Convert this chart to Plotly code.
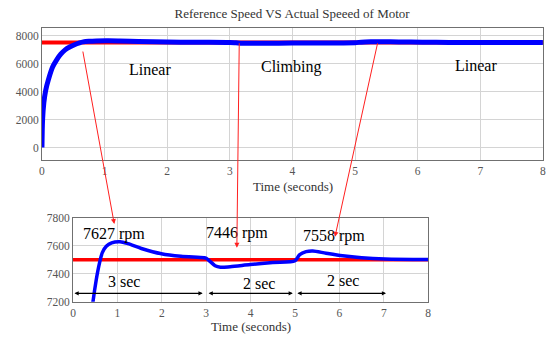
import plotly.graph_objects as go

# ---- data ----
time_s = [0, 0.01, 0.03, 0.06, 0.1, 0.17, 0.24, 0.3, 0.37, 0.45, 0.52, 0.6, 0.66, 0.75, 0.87,
          1.06, 1.24, 1.54, 1.99, 2.43, 2.95, 3.0, 3.1, 3.2, 3.32, 3.54, 3.99, 4.5, 5.0, 5.1,
          5.25, 5.4, 5.7, 6.07, 6.5, 7.03, 8.0]
actual_rpm = [0, 2000, 3200, 4100, 4800, 5750, 6300, 6670, 6980, 7200, 7350, 7480, 7550, 7595, 7620,
              7628, 7614, 7580, 7542, 7524, 7514, 7510, 7484, 7457, 7446, 7450, 7465, 7480, 7492, 7534,
              7557, 7562, 7546, 7528, 7514, 7505, 7501]
ref_time = [0, 8]
ref_rpm = [7500, 7500]

regions = ["Linear", "Climbing", "Linear"]
region_x = [1.72, 3.97, 6.93]
region_y = [5566, 5752, 5862]

peak_labels = ["7627 rpm", "7446 rpm", "7558 rpm"]
peak_x = [0.92, 3.69, 5.88]
peak_y = [7680, 7690, 7668]

dur_labels = ["3 sec", "2 sec", "2 sec"]
dur_x = [1.14, 4.19, 6.09]
dur_y = [7345, 7332, 7351]
dur_start = [0.0, 3.02, 5.02]
dur_end = [2.92, 4.95, 7.05]

x_ticks = list(range(0, 9))
top_y_ticks = [0, 2000, 4000, 6000, 8000]
bot_y_ticks = [7200, 7400, 7600, 7800]

SERIF = "Liberation Serif"
fig = go.Figure()

# top plot
fig.add_trace(go.Scatter(x=ref_time, y=ref_rpm, mode="lines", line=dict(color="#ff0000", width=4),
                         xaxis="x", yaxis="y", showlegend=False))
fig.add_trace(go.Scatter(x=time_s, y=actual_rpm, mode="lines",
                         line=dict(color="#0000ff", width=5, shape="spline", smoothing=0.8),
                         xaxis="x", yaxis="y", showlegend=False))
# bottom plot
fig.add_trace(go.Scatter(x=ref_time, y=ref_rpm, mode="lines", line=dict(color="#ff0000", width=3.5),
                         xaxis="x2", yaxis="y2", showlegend=False))
fig.add_trace(go.Scatter(x=time_s, y=actual_rpm, mode="lines",
                         line=dict(color="#0000ff", width=3.5, shape="spline", smoothing=0.8),
                         xaxis="x2", yaxis="y2", showlegend=False))

axis_common = dict(showgrid=True, gridcolor="#d4d4d4", gridwidth=1, showline=True, linecolor="#707070",
                   linewidth=1, mirror=True, ticks="", zeroline=False,
                   tickfont=dict(family=SERIF, size=11.5, color="#555555"))

fig.update_layout(
    width=547, height=342, margin=dict(l=0, r=0, t=0, b=0),
    paper_bgcolor="white", plot_bgcolor="white",
    title=dict(text="Reference Speed VS Actual Speeed of Motor", x=0.534, y=0.961, xanchor="center",
               yanchor="middle", font=dict(family=SERIF, size=13, color="#333333")),
    xaxis=dict(domain=[0.072, 0.998], anchor="y", range=[0, 8], tickvals=x_ticks, **axis_common),
    yaxis=dict(domain=[0.5322, 0.9348], anchor="x", range=[-917, 8579], tickvals=top_y_ticks, **axis_common),
    xaxis2=dict(domain=[0.1294, 0.786], anchor="y2", range=[0, 8], tickvals=x_ticks, **axis_common),
    yaxis2=dict(domain=[0.1038, 0.3588], anchor="x2", range=[7200, 7800], tickvals=bot_y_ticks, **axis_common),
)

# axis titles
fig.add_annotation(x=0.5356, y=0.454, xref="paper", yref="paper", text="Time (seconds)", showarrow=False,
                   xanchor="center", yanchor="middle", font=dict(family=SERIF, size=13, color="#333333"))
fig.add_annotation(x=0.459, y=0.0284, xref="paper", yref="paper", text="Time (seconds)", showarrow=False,
                   xanchor="center", yanchor="middle", font=dict(family=SERIF, size=13, color="#333333"))

for txt, x, y in zip(regions, region_x, region_y):
    fig.add_annotation(x=x, y=y, xref="x", yref="y", text=txt, showarrow=False,
                       font=dict(family=SERIF, size=16, color="black"))
for txt, x, y in zip(peak_labels, peak_x, peak_y):
    fig.add_annotation(x=x, y=y, xref="x2", yref="y2", text=txt, showarrow=False,
                       font=dict(family=SERIF, size=16, color="black"))
for txt, x, y in zip(dur_labels, dur_x, dur_y):
    fig.add_annotation(x=x, y=y, xref="x2", yref="y2", text=txt, showarrow=False,
                       font=dict(family=SERIF, size=16, color="black"))
for s, e in zip(dur_start, dur_end):
    fig.add_annotation(x=e, y=7260, ax=s, ay=7260, xref="x2", yref="y2", axref="x2", ayref="y2",
                       text="", showarrow=True, arrowside="end+start", arrowhead=2, arrowsize=0.7,
                       arrowwidth=1.2, arrowcolor="black", standoff=0, startstandoff=0)

# red pointer arrows from top plot to peak values
pointer_x = [0.93, 3.69, 5.9]
pointer_y = [7754, 7585, 7663]
pointer_dx = [-31.7, 2.4, 42.9]
pointer_dy = [-174, -206, -195]
for x, y, dx, dy in zip(pointer_x, pointer_y, pointer_dx, pointer_dy):
    fig.add_annotation(x=x, y=y, xref="x2", yref="y2", ax=dx, ay=dy, text="", showarrow=True,
                       arrowhead=2, arrowsize=1, arrowwidth=1, arrowcolor="#ff2020", standoff=0)

fig.write_html("out.html")
